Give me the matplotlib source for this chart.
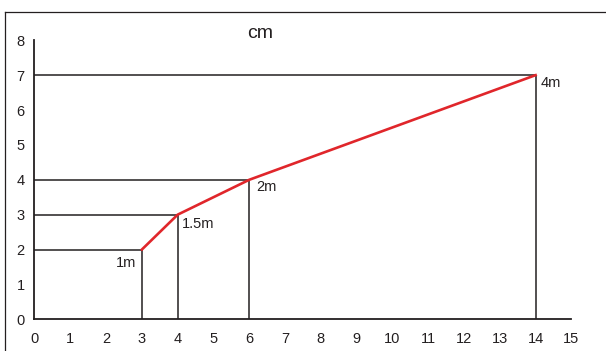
import matplotlib
matplotlib.use("Agg")
import matplotlib.pyplot as plt
from matplotlib.lines import Line2D

plt.rcParams["font.family"] = ["Liberation Sans", "DejaVu Sans"]

# readings taken along the curve: x position, value in cm, and length label
x_vals = [3, 4, 6, 14]
y_vals = [2, 3, 4, 7]
labels = ["1m", "1.5m", "2m", "4m"]
# label offsets in pixels (dx, dy) and horizontal alignment
label_offsets = [(-6, -13), (4, -9), (7, -7), (5, -8)]
label_ha = ["right", "left", "left", "left"]

x_ticks = list(range(0, 16))
y_ticks = list(range(0, 9))

INK = "#231f20"
RED = "#e0262b"

fig = plt.figure(figsize=(6.06, 3.51), dpi=100)
ax = fig.add_axes([0.0569, 0.0903, 0.886, 0.795])

# guide lines from each point to the axes
for x, y in zip(x_vals, y_vals):
    ax.plot([0, x], [y, y], color=INK, lw=1.1, solid_capstyle="butt", zorder=2)
    ax.plot([x, x], [0, y], color=INK, lw=1.1, solid_capstyle="butt", zorder=2)

ax.plot(x_vals, y_vals, color=RED, lw=1.9, zorder=3)

for x, y, lab, (dx, dy), ha in zip(x_vals, y_vals, labels, label_offsets, label_ha):
    ax.annotate(lab, (x, y), xytext=(dx, dy), textcoords="offset pixels",
                ha=ha, va="center", fontsize=10.5, color=INK)

ax.set_xlim(0, 15)
ax.set_ylim(0, 8)
ax.set_xticks(x_ticks)
ax.set_yticks(y_ticks)
ax.tick_params(length=0, labelsize=10.5, labelcolor=INK)
ax.tick_params(axis="x", pad=9)
ax.tick_params(axis="y", pad=7)
for side in ["top", "right"]:
    ax.spines[side].set_visible(False)
for side in ["left", "bottom"]:
    ax.spines[side].set_color(INK)
    ax.spines[side].set_linewidth(1.3)

fig.text(260 / 606, 1 - 33 / 351, "cm", ha="center", va="center",
         fontsize=14, color=INK)

# partial frame of the original screenshot (top and left edges)
fig.add_artist(Line2D([4.5 / 606, 4.5 / 606], [0, 1 - 12 / 351],
                      transform=fig.transFigure, color=INK, lw=0.9))
fig.add_artist(Line2D([4.5 / 606, 1], [1 - 12 / 351, 1 - 12 / 351],
                      transform=fig.transFigure, color=INK, lw=0.9))

fig.savefig("out.png", dpi=100)
